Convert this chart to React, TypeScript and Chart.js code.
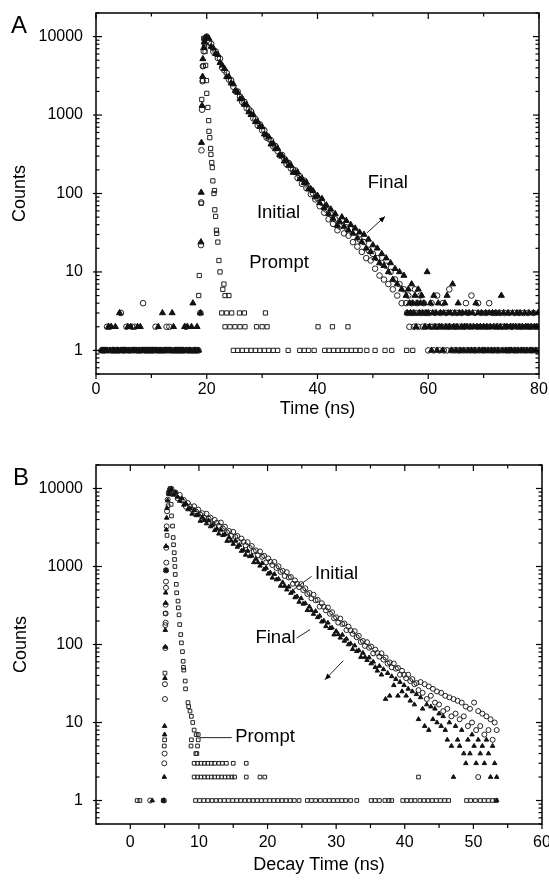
import React, { useEffect, useRef } from 'react';
import { Chart, registerables } from 'chart.js';

Chart.register(...registerables);

const FONT = "'Liberation Sans', Arial, Helvetica, sans-serif";

// ---------------- shared ticks ----------------
const yTickLabels = [1, 10, 100, 1000, 10000];

// ---------------- Panel A : Time (ns) ----------------
const aXTickLabels = [0, 20, 40, 60, 80];
const aXMinorTicks = [10, 30, 50, 70];

// Prompt (open squares): peak region, explicit (time, counts)
const aPromptPeakT = [18.55, 18.65, 19.0, 19.1, 19.25, 19.35, 19.45, 19.6, 19.7, 19.8, 19.95, 20.0, 20.2, 20.35, 20.4, 20.55, 20.7, 20.75, 20.9, 21.0, 21.1, 21.3, 21.4, 21.45, 21.6, 21.75, 21.8, 22.0, 22.2, 22.4, 22.9, 23.1, 23.3, 24.0];
const aPromptPeakC = [5, 9, 75, 1580, 2750, 4200, 9500, 7400, 6450, 4300, 2750, 1890, 1250, 850, 620, 515, 375, 315, 248, 214, 145, 100, 109, 62, 51, 34, 31, 24, 14, 10, 6, 7, 5, 5];
// Prompt floor: times at which 3, 2 and 1 counts were recorded
const aPromptAt3 = [22.7, 23.6, 24.5, 25.9, 26.8, 30.6];
const aPromptAt2 = [23.3, 24.2, 25.1, 26.0, 26.9, 29.0, 30.0, 30.9, 40.1, 42.7, 45.5];
const aPromptAt1 = [24.8, 25.6, 26.4, 27.2, 28.0, 28.8, 29.6, 30.4, 31.2, 32.0, 32.8, 34.7, 36.8, 37.6, 38.4, 39.4, 41.3, 42.1, 42.9, 43.7, 44.5, 45.3, 46.1, 46.9, 47.7, 48.9, 50.4, 52.2, 53.4, 56.1, 57.2];

// Rising edge (explicit)
const aInitialRiseT = [18.85, 18.95, 19.0, 19.05, 19.15, 19.25, 19.3, 19.45, 19.6, 19.75];
const aInitialRiseC = [3, 22, 77, 355, 1170, 2700, 4200, 6500, 8200, 9600];
const aFinalRiseT = [18.85, 18.95, 19.0, 19.05, 19.15, 19.25, 19.3, 19.45, 19.6, 19.75];
const aFinalRiseC = [3, 24, 103, 445, 1320, 3100, 5200, 7200, 8600, 9700];

// Background before the pulse: channels from 1.0 ns, 0.25 ns wide
const aPreStart = 1.0;
const aPreStep = 0.25;
const aInitialPre = [
  1, 1, 1, 1, 2, 1, 2, 1, 1, 1,
  1, 1, 1, 1, 3, 1, 1, 1, 2, 1,
  1, 1, 2, 1, 2, 1, 1, 1, 1, 1,
  4, 1, 1, 1, 1, 1, 1, 1, 1, 2,
  1, 1, 1, 1, 1, 1, 1, 2, 1, 2,
  1, 1, 1, 1, 1, 1, 1, 1, 1, 1,
  1, 2, 1, 1, 1, 1, 1, 1, 1, 1,
  1];
const aFinalPre = [
  1, 1, 1, 1, 1, 2, 1, 2, 1, 1,
  2, 1, 1, 3, 1, 1, 1, 1, 1, 2,
  1, 2, 1, 1, 1, 1, 2, 1, 2, 1,
  1, 1, 1, 1, 1, 1, 1, 1, 1, 1,
  1, 2, 1, 1, 3, 1, 1, 1, 1, 1,
  1, 3, 2, 1, 1, 1, 1, 1, 1, 1,
  2, 1, 2, 1, 1, 2, 4, 1, 1, 2,
  1];

// Decay: channels from 20.0 ns, 0.4 ns wide
const aDecayStart = 20.0;
const aDecayStep = 0.4;
const aInitialDecay = [
  10000, 8450, 8100, 6420, 6480, 5335, 5240, 4000, 3715, 3430,
  2830, 2790, 2290, 2010, 1995, 1720, 1470, 1475, 1220, 1185,
  1110, 905, 890, 740, 760, 640, 640, 515, 500, 475,
  400, 403, 348, 305, 310, 278, 238, 245, 208, 201,
  197, 158, 166, 133, 146, 117, 119, 98, 100, 84,
  87, 69, 76, 57, 62, 47, 54, 41, 47, 34,
  38, 45, 31, 37, 29, 35, 24, 32, 21, 26,
  18, 24, 15, 19, 14, 17, 11, 15, 9, 13,
  8, 12, 7, 10, 6, 8, 5, 7, 4, 6];
const aFinalDecay = [
  9800, 9430, 7460, 7100, 6050, 5880, 4650, 4300, 3900, 3070,
  3070, 2550, 2480, 2050, 1940, 1600, 1630, 1365, 1350, 1090,
  1010, 1010, 820, 820, 710, 705, 570, 555, 525, 425,
  435, 370, 375, 311, 300, 258, 264, 227, 229, 185,
  184, 186, 153, 155, 137, 139, 114, 113, 108, 90,
  94, 76, 86, 66, 71, 55, 63, 48, 55, 39,
  44, 50, 38, 45, 34, 40, 31, 36, 27, 32,
  24, 30, 20, 26, 18, 22, 15, 20, 13, 17,
  12, 15, 10, 13, 8, 11, 7, 10, 6, 9];

// Tail: channels from 56.0 ns, 0.2 ns wide
const aTailStart = 56.0;
const aTailStep = 0.2;
const aInitialTail = [
  4, 3, 5, 2, 3, 4, 3, 2, 6, 3, 4, 2, 3, 5, 3, 2, 4, 3, 2, 3,
  1, 3, 2, 4, 2, 1, 3, 2, 5, 2, 1, 3, 2, 4, 1, 2, 3, 1, 2, 6,
  2, 1, 3, 2, 1, 2, 3, 1, 2, 1, 3, 2, 1, 2, 4, 1, 3, 2, 1, 5,
  2, 1, 3, 1, 2, 4, 1, 2, 3, 1, 2, 1, 3, 2, 1, 4, 2, 1, 3, 1,
  2, 3, 1, 2, 1, 3, 2, 1, 2, 3, 1, 2, 1, 3, 1, 2, 2, 1, 3, 1,
  2, 1, 3, 2, 1, 2, 3, 1, 2, 1, 3, 2, 1, 2, 1, 3, 2, 1, 2, 1];
const aFinalTail = [
  5, 3, 6, 4, 3, 7, 4, 3, 5, 2, 4, 6, 3, 4, 5, 3, 4, 2, 3, 10,
  3, 2, 4, 1, 3, 5, 2, 3, 1, 4, 2, 3, 2, 1, 3, 4, 2, 5, 3, 2,
  3, 1, 7, 2, 3, 1, 2, 4, 3, 1, 2, 3, 1, 2, 3, 2, 1, 3, 2, 1,
  3, 2, 1, 4, 2, 3, 1, 2, 3, 1, 2, 1, 3, 2, 1, 3, 2, 1, 3, 2,
  1, 3, 2, 1, 3, 2, 5, 1, 3, 2, 1, 2, 3, 1, 2, 1, 3, 2, 1, 2,
  3, 1, 2, 3, 1, 2, 1, 3, 2, 1, 2, 3, 1, 2, 1, 3, 2, 1, 2, 3];

// ---------------- Panel B : Decay Time (ns) ----------------
const bXTickLabels = [0, 10, 20, 30, 40, 50, 60];
const bXMinorTicks = [5, 15, 25, 35, 45, 55];

const bPromptPeakT = [4.95, 5.0, 5.05, 5.1, 5.2, 5.35, 5.5, 5.65, 5.8, 5.85, 5.95, 6.0, 6.15, 6.25, 6.3, 6.4, 6.45, 6.5, 6.55, 6.7, 6.75, 6.95, 7.0, 7.1, 7.2, 7.35, 7.45, 7.6, 7.7, 7.75, 7.8, 8.0, 8.05, 8.4, 8.5, 8.7, 8.9, 9.1, 9.3, 9.6, 9.9, 8.9, 9.9, 8.85, 9.8, 9.55, 9.7];
const bPromptPeakC = [5, 6, 43, 250, 900, 2500, 6000, 9000, 10000, 8500, 6250, 4450, 3300, 2350, 1900, 1500, 1230, 1000, 790, 590, 460, 360, 295, 240, 180, 134, 105, 81, 61, 51, 47, 34, 27, 18, 16, 14, 12, 10, 8, 7, 7, 6, 6, 5, 5, 4, 4];
const bPromptAt3 = [9.3, 9.8, 10.3, 10.8, 11.3, 11.8, 12.3, 12.9, 13.4, 14.0, 15.0, 16.9];
const bPromptAt2 = [9.3, 9.8, 10.3, 10.8, 11.3, 11.8, 12.3, 12.8, 13.3, 13.8, 14.3, 14.8, 15.2, 16.9, 18.9, 19.6, 42.0];
const bPromptAt1 = [1.0, 1.4, 4.8, 9.5, 10.1, 10.7, 11.3, 11.9, 12.5, 13.1, 13.7, 14.3, 14.9, 15.5, 16.1, 16.7, 17.3, 17.9, 18.5, 19.1, 19.7, 20.3, 20.9, 21.5, 22.1, 22.7, 23.3, 23.9, 24.6, 25.8, 26.4, 27.0, 27.7, 28.4, 29.0, 29.6, 30.2, 30.8, 31.4, 32.1, 33.0, 35.1, 35.7, 36.3, 37.1, 37.7, 38.1, 39.7, 40.3, 40.9, 41.5, 42.2, 42.8, 43.4, 44.0, 44.6, 45.2, 45.8, 46.4, 49.0, 49.6, 50.3, 51.0, 51.6, 52.2, 52.8, 53.3];

// Rising edge, early background and isolated low points (explicit)
const bInitialExtraT = [2.9, 4.9, 4.95, 5.0, 5.05, 5.05, 5.1, 5.1, 5.15, 5.15, 5.15, 5.2, 5.2, 5.2, 5.25, 5.25, 5.3, 5.35, 5.45, 5.6, 5.75, 50.7];
const bInitialExtraC = [1, 1, 3, 4, 20, 31, 90, 177, 190, 250, 324, 533, 640, 890, 1120, 1740, 3270, 5100, 7200, 8800, 9600, 2];
const bFinalExtraT = [3.2, 4.85, 4.95, 5.0, 5.0, 5.05, 5.1, 5.1, 5.15, 5.15, 5.2, 5.2, 5.25, 5.3, 5.35, 5.45, 5.6, 5.75, 53.4];
const bFinalExtraC = [1, 1, 2, 7, 9, 37, 93, 153, 340, 460, 890, 1820, 2960, 4200, 5600, 7000, 8500, 9500, 1];

// Decay: channels from 6.0 ns, 0.3 ns wide
const bDecayStart = 6.0;
const bDecayStep = 0.3;
const bInitialDecay = [
  9900, 8770, 8880, 7480, 8260, 7020, 7120, 5850, 6500, 5900,
  5340, 5920, 5040, 5370, 4610, 4820, 4200, 4750, 4100, 4220,
  3500, 3950, 3630, 3330, 3660, 3070, 3230, 2740, 2850, 2470,
  2780, 2400, 2460, 2040, 2280, 2070, 1870, 2050, 1730, 1830,
  1560, 1610, 1390, 1560, 1330, 1370, 1130, 1270, 1150, 1045,
  1145, 958, 1007, 852, 880, 756, 846, 723, 733, 600,
  663, 601, 544, 595, 499, 525, 444, 458, 391, 434,
  369, 374, 306, 338, 305, 274, 298, 248, 259, 217,
  223, 191, 215, 183, 186, 153, 169, 152, 137, 148,
  124, 129, 108, 111, 96, 107, 91, 94, 77, 86,
  78, 70, 77, 64, 68, 57, 59, 51, 57, 49,
  50, 41, 46, 41, 37, 41, 34, 36, 31, 32,
  26, 33, 24, 31, 20, 29, 22, 27, 18, 25,
  17, 24, 14, 22, 15, 21, 12, 20, 13, 19,
  11, 18, 12, 16, 9, 15, 10, 18, 8, 14,
  9, 13, 7, 12, 8, 11, 6, 10, 8];
const bFinalDecay = [
  9800, 8280, 8890, 7800, 6920, 7460, 6170, 6410, 5390, 5530,
  4720, 5280, 4520, 4620, 3830, 4270, 3910, 3550, 3880, 3260,
  3430, 2910, 3040, 2630, 2950, 2520, 2580, 2120, 2360, 2140,
  1940, 2130, 1780, 1880, 1580, 1630, 1410, 1580, 1350, 1370,
  1130, 1250, 1130, 1020, 1100, 917, 958, 806, 833, 716,
  800, 680, 691, 565, 624, 562, 505, 549, 457, 478,
  401, 412, 351, 390, 332, 337, 275, 305, 274, 246,
  267, 223, 233, 196, 201, 171, 190, 162, 164, 134,
  148, 135, 122, 133, 111, 118, 100, 103, 87, 97,
  82, 84, 69, 78, 69, 63, 68, 57, 60, 51,
  46, 53, 41, 48, 20, 43, 22, 39, 30, 36,
  22, 33, 25, 30, 22, 27, 19, 25, 17, 23,
  11, 21, 15, 9, 17, 8, 16, 11, 15, 10,
  13, 9, 12, 8, 6, 10, 5, 2, 9, 6,
  5, 8, 4, 3, 6, 4, 7, 5, 3, 6,
  4, 5, 3, 6, 4, 2, 5, 3, 2];

// ---------------- helpers ----------------
type Pt = { x: number; y: number };
const fromChannels = (start: number, step: number, counts: number[]): Pt[] =>
  counts.flatMap((c, i) => (c > 0 ? [{ x: Math.round((start + i * step) * 1000) / 1000, y: c }] : []));
const fromPairs = (ts: number[], cs: number[]): Pt[] => ts.map((t, i) => ({ x: t, y: cs[i] }));
const atLevel = (ts: number[], c: number): Pt[] => ts.map((t) => ({ x: t, y: c }));

const yMinorTicks: number[] = [];
for (const d of [0.1, 1, 10, 100, 1000, 10000]) {
  for (let k = 2; k <= 9; k++) {
    const v = k * d;
    if (v >= 0.5 && v <= 20000) yMinorTicks.push(v);
  }
}

type Ann = {
  texts: { text: string; t: number; v: number }[];
  lines: { from: [number, number]; to: [number, number]; arrow?: boolean }[];
};

const annA: Ann = {
  texts: [
    { text: 'Final', t: 52.7, v: 136 },
    { text: 'Initial', t: 32.96, v: 56.4 },
    { text: 'Prompt', t: 33.05, v: 13.0 },
  ],
  lines: [{ from: [48.9, 31.4], to: [52.2, 50.9], arrow: true }],
};
const annB: Ann = {
  texts: [
    { text: 'Initial', t: 30.05, v: 801 },
    { text: 'Final', t: 21.16, v: 121 },
    { text: 'Prompt', t: 19.63, v: 6.5 },
  ],
  lines: [
    { from: [23.75, 504], to: [26.43, 749] },
    { from: [24.25, 121], to: [26.19, 155] },
    { from: [10.16, 6.4], to: [14.78, 6.4] },
    { from: [31.04, 62], to: [28.37, 35.4], arrow: true },
  ],
};

function decorPlugin(label: string, lx: number, ly: number, xMajor: number[], xMinor: number[], ann: Ann) {
  return {
    id: 'decor',
    afterDatasetsDraw(chart: any) {
      const { ctx, chartArea: ca, scales } = chart;
      const xs = scales.x;
      const ys = scales.y;
      const seg = (x1: number, y1: number, x2: number, y2: number) => {
        ctx.beginPath();
        ctx.moveTo(x1, y1);
        ctx.lineTo(x2, y2);
        ctx.stroke();
      };
      ctx.save();
      ctx.strokeStyle = '#000';
      ctx.lineWidth = 1.5;
      ctx.strokeRect(ca.left, ca.top, ca.right - ca.left, ca.bottom - ca.top);
      ctx.lineWidth = 1.2;
      for (const v of xMajor) {
        const p = xs.getPixelForValue(v);
        seg(p, ca.top, p, ca.top + 6);
        seg(p, ca.bottom, p, ca.bottom + 5);
      }
      for (const v of xMinor) {
        const p = xs.getPixelForValue(v);
        seg(p, ca.top, p, ca.top + 3.5);
        seg(p, ca.bottom, p, ca.bottom + 4);
      }
      for (const v of yTickLabels) {
        const p = ys.getPixelForValue(v);
        seg(ca.left - 3, p, ca.left + 6, p);
        seg(ca.right - 6, p, ca.right, p);
      }
      for (const v of yMinorTicks) {
        const p = ys.getPixelForValue(v);
        seg(ca.left, p, ca.left + 3.5, p);
        seg(ca.right - 3.5, p, ca.right, p);
      }
      // annotations
      ctx.fillStyle = '#000';
      ctx.strokeStyle = '#222';
      ctx.lineWidth = 1;
      for (const l of ann.lines) {
        const x1 = xs.getPixelForValue(l.from[0]);
        const y1 = ys.getPixelForValue(l.from[1]);
        const x2 = xs.getPixelForValue(l.to[0]);
        const y2 = ys.getPixelForValue(l.to[1]);
        seg(x1, y1, x2, y2);
        if (l.arrow) {
          const a = Math.atan2(y2 - y1, x2 - x1);
          const len = 6;
          const w = 2.6;
          ctx.beginPath();
          ctx.moveTo(x2, y2);
          ctx.lineTo(x2 - len * Math.cos(a) + w * Math.sin(a), y2 - len * Math.sin(a) - w * Math.cos(a));
          ctx.lineTo(x2 - len * Math.cos(a) - w * Math.sin(a), y2 - len * Math.sin(a) + w * Math.cos(a));
          ctx.closePath();
          ctx.fill();
        }
      }
      ctx.font = `18.5px ${FONT}`;
      ctx.textAlign = 'center';
      ctx.textBaseline = 'middle';
      for (const t of ann.texts) {
        ctx.fillText(t.text, xs.getPixelForValue(t.t), ys.getPixelForValue(t.v));
      }
      ctx.font = `24px ${FONT}`;
      ctx.textAlign = 'left';
      ctx.textBaseline = 'alphabetic';
      ctx.fillText(label, lx, ly);
      ctx.restore();
    },
  };
}

type PanelSpec = {
  xMin: number;
  xMax: number;
  xTicks: number[];
  xMinor: number[];
  xTitle: string;
  padTop: number;
  padRight: number;
  xAxisHeight: number;
  xTickPad: number;
  xTitlePad: number;
  yTitlePad: number;
  label: string;
  labelX: number;
  labelY: number;
  ann: Ann;
  prompt: Pt[];
  initial: Pt[];
  final: Pt[];
  sq: number;
  ci: number;
  tr: number;
};

function buildConfig(p: PanelSpec): any {
  const tickFont = { family: FONT, size: 16 };
  const titleFont = { family: FONT, size: 18 };
  return {
    type: 'scatter',
    data: {
      datasets: [
        {
          label: 'Final',
          data: p.final,
          pointStyle: 'triangle',
          pointRadius: p.tr,
          pointBackgroundColor: '#111',
          pointBorderColor: '#111',
          pointBorderWidth: 1,
          showLine: false,
        },
        {
          label: 'Initial',
          data: p.initial,
          pointStyle: 'circle',
          pointRadius: p.ci,
          pointBackgroundColor: 'rgba(255,255,255,0)',
          pointBorderColor: '#222',
          pointBorderWidth: 1,
          showLine: false,
        },
        {
          label: 'Prompt',
          data: p.prompt,
          pointStyle: 'rect',
          pointRadius: p.sq,
          pointBackgroundColor: 'rgba(255,255,255,0)',
          pointBorderColor: '#222',
          pointBorderWidth: 1,
          showLine: false,
        },
      ],
    },
    options: {
      responsive: false,
      animation: false,
      devicePixelRatio: 1,
      events: [],
      layout: { padding: { top: p.padTop, right: p.padRight, left: 0, bottom: 0 } },
      plugins: { legend: { display: false }, tooltip: { enabled: false } },
      scales: {
        x: {
          type: 'linear',
          min: p.xMin,
          max: p.xMax,
          afterBuildTicks: (s: any) => {
            s.ticks = p.xTicks.map((v) => ({ value: v }));
          },
          afterFit: (s: any) => {
            s.height = p.xAxisHeight;
            s.paddingLeft = 0;
            s.paddingRight = 0;
          },
          grid: { display: false, drawTicks: false },
          border: { display: false },
          ticks: {
            autoSkip: false,
            maxRotation: 0,
            minRotation: 0,
            padding: p.xTickPad,
            color: '#000',
            font: tickFont,
            callback: (v: any) => String(v),
          },
          title: {
            display: true,
            text: p.xTitle,
            color: '#000',
            font: titleFont,
            padding: { top: 0, bottom: p.xTitlePad },
          },
        },
        y: {
          type: 'logarithmic',
          min: 0.5,
          max: 20000,
          afterBuildTicks: (s: any) => {
            s.ticks = yTickLabels.map((v) => ({ value: v }));
          },
          afterFit: (s: any) => {
            s.width = 96;
            s.paddingTop = 0;
            s.paddingBottom = 0;
          },
          grid: { display: false, drawTicks: false },
          border: { display: false },
          ticks: {
            autoSkip: false,
            padding: 13,
            color: '#000',
            font: tickFont,
            callback: (v: any) => String(v),
          },
          title: {
            display: true,
            text: 'Counts',
            color: '#000',
            font: titleFont,
            padding: { top: p.yTitlePad, bottom: 0 },
          },
        },
      },
    },
    plugins: [decorPlugin(p.label, p.labelX, p.labelY, p.xTicks, p.xMinor, p.ann)],
  };
}

const panelA: PanelSpec = {
  xMin: 0,
  xMax: 80,
  xTicks: aXTickLabels,
  xMinor: aXMinorTicks,
  xTitle: 'Time (ns)',
  padTop: 13,
  padRight: 31,
  xAxisHeight: 67,
  xTickPad: 6,
  xTitlePad: 21,
  yTitlePad: 9,
  label: 'A',
  labelX: 11,
  labelY: 33,
  ann: annA,
  prompt: [
    ...fromPairs(aPromptPeakT, aPromptPeakC),
    ...atLevel(aPromptAt3, 3),
    ...atLevel(aPromptAt2, 2),
    ...atLevel(aPromptAt1, 1),
  ],
  initial: [
    ...fromChannels(aPreStart, aPreStep, aInitialPre),
    ...fromPairs(aInitialRiseT, aInitialRiseC),
    ...fromChannels(aDecayStart, aDecayStep, aInitialDecay),
    ...fromChannels(aTailStart, aTailStep, aInitialTail),
  ],
  final: [
    ...fromChannels(aPreStart, aPreStep, aFinalPre),
    ...fromPairs(aFinalRiseT, aFinalRiseC),
    ...fromChannels(aDecayStart, aDecayStep, aFinalDecay),
    ...fromChannels(aTailStart, aTailStep, aFinalTail),
  ],
  sq: 3,
  ci: 2.8,
  tr: 3.5,
};

const panelB: PanelSpec = {
  xMin: -5,
  xMax: 60,
  xTicks: bXTickLabels,
  xMinor: bXMinorTicks,
  xTitle: 'Decay Time (ns)',
  padTop: 24,
  padRight: 28,
  xAxisHeight: 58,
  xTickPad: 9,
  xTitlePad: 6,
  yTitlePad: 10,
  label: 'B',
  labelX: 13,
  labelY: 44,
  ann: annB,
  prompt: [
    ...fromPairs(bPromptPeakT, bPromptPeakC),
    ...atLevel(bPromptAt3, 3),
    ...atLevel(bPromptAt2, 2),
    ...atLevel(bPromptAt1, 1),
  ],
  initial: [
    ...fromPairs(bInitialExtraT, bInitialExtraC),
    ...fromChannels(bDecayStart, bDecayStep, bInitialDecay),
  ],
  final: [
    ...fromPairs(bFinalExtraT, bFinalExtraC),
    ...fromChannels(bDecayStart, bDecayStep, bFinalDecay),
  ],
  sq: 2.6,
  ci: 2.5,
  tr: 2.6,
};

function Panel({ spec, top }: { spec: PanelSpec; top: number }) {
  const ref = useRef<HTMLCanvasElement | null>(null);
  useEffect(() => {
    if (!ref.current) return;
    const chart = new Chart(ref.current, buildConfig(spec));
    return () => chart.destroy();
  }, [spec]);
  return (
    <canvas
      ref={ref}
      width={570}
      height={441}
      style={{ position: 'absolute', left: 0, top, width: 570, height: 441, display: 'block' }}
    />
  );
}

export default function App() {
  return (
    <div
      style={{
        position: 'fixed',
        left: 0,
        top: 0,
        width: 549,
        height: 882,
        overflow: 'hidden',
        background: '#fff',
      }}
    >
      <Panel spec={panelA} top={0} />
      <Panel spec={panelB} top={441} />
    </div>
  );
}
